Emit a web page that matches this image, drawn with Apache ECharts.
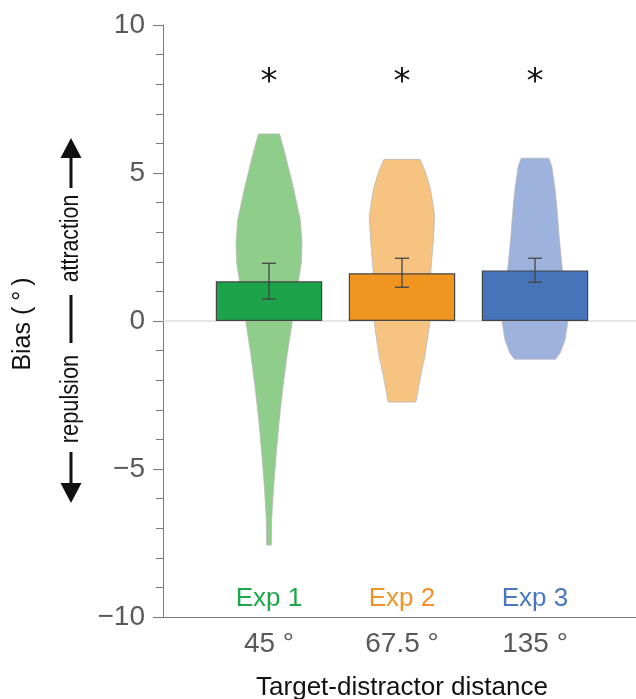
<!DOCTYPE html>
<html>
<head>
<meta charset="utf-8">
<script src="https://cdn.jsdelivr.net/npm/echarts@6/dist/echarts.min.js"></script>
<style>
html,body{margin:0;padding:0;background:#fff;}
#chart{width:636px;height:699px;}
</style>
</head>
<body>
<div id="chart"></div>
<script>
// ---- data ----
const categories = ['45 °', '67.5 °', '135 °'];
const expLabels = ['Exp 1', 'Exp 2', 'Exp 3'];
const meanBias = [1.34, 1.61, 1.71];
const errLow = [0.74, 1.14, 1.31];
const errHigh = [1.95, 2.12, 2.12];
const sigMarks = ['*', '*', '*'];
const sigLevel = 8.3;

// violin outlines: bias levels (deg) and relative density (1 = widest)
const violin1Levels = [6.32, 5.67, 4.54, 3.41, 2.64, 1.96, 1.40, 0.7, -0.05, -1.13, -2.25, -3.35, -4.47, -5.6, -6.7, -7.57];
const violin1Density = [0.32, 0.48, 0.73, 0.95, 1.0, 0.98, 0.9, 0.8, 0.7, 0.55, 0.42, 0.31, 0.22, 0.14, 0.08, 0.07];
const violin2Levels = [5.46, 5.0, 4.43, 3.86, 3.52, 2.74, 1.62, 0.0, -1.2, -1.77, -2.74];
const violin2Density = [0.55, 0.72, 0.87, 0.95, 0.99, 0.95, 0.87, 0.85, 0.69, 0.58, 0.42];
const violin3Levels = [5.5, 5.22, 4.43, 3.87, 2.74, 1.72, 0.8, 0.0, -0.64, -1.09, -1.29];
const violin3Density = [0.42, 0.51, 0.61, 0.66, 0.74, 0.83, 0.92, 1.0, 0.91, 0.76, 0.62];

// ---- styles ----
const barColors = ['#1da349', '#f0951f', '#4575b8'];
const lightColors = ['#8fcd8b', '#f7c381', '#9eb2de'];
const labelColors = ['#1fa64a', '#f0932a', '#4877bd'];
const FONT = '"Liberation Sans", Arial, Helvetica, sans-serif';
const VIOLIN_SCALE = 0.248;

const violinLevels = [violin1Levels, violin2Levels, violin3Levels];
const violinDensity = [violin1Density, violin2Density, violin3Density];

const chart = echarts.init(document.getElementById('chart'));

const option = {
  animation: false,
  grid: [
    {left: 163, right: 0, top: 25, bottom: 82, outerBoundsMode: 'none', containLabel: false},
    {left: 202.5, width: 399, top: 25, bottom: 82, outerBoundsMode: 'none', containLabel: false}
  ],
  xAxis: [
    {gridIndex: 0, type: 'value', min: 0, max: 1,
      axisLine: {show: true, onZero: false, lineStyle: {color: '#7a7a7a', width: 1}},
      axisTick: {show: false}, axisLabel: {show: false}, splitLine: {show: false}},
    {gridIndex: 1, type: 'category', data: categories,
      axisLine: {show: false},
      axisTick: {show: true, alignWithLabel: true, length: 10, lineStyle: {color: '#7a7a7a'}},
      axisLabel: {fontSize: 28, color: '#58595b', fontFamily: FONT, margin: 13},
      name: 'Target-distractor distance', nameLocation: 'middle', nameGap: 71,
      nameTextStyle: {fontSize: 26, color: '#111', fontFamily: FONT, verticalAlign: 'middle'},
      splitLine: {show: false}}
  ],
  yAxis: [
    {gridIndex: 0, type: 'value', min: -10, max: 10, interval: 5,
      axisLine: {show: true, lineStyle: {color: '#7a7a7a', width: 1}},
      axisTick: {show: true, length: 10, lineStyle: {color: '#7a7a7a'}},
      minorTick: {show: true, splitNumber: 5, length: 7, lineStyle: {color: '#7a7a7a'}},
      axisLabel: {fontSize: 28, color: '#58595b', fontFamily: FONT, margin: 18,
        formatter: v => v < 0 ? '\u2212' + Math.abs(v) : String(v)},
      splitLine: {show: false}},
    {gridIndex: 1, type: 'value', min: -10, max: 10, show: false}
  ],
  graphic: [
    {type: 'text', x: 23, y: 324, rotation: Math.PI / 2,
      style: {text: 'Bias ({d|°})', fontSize: 25, fontFamily: FONT, fill: '#111', align: 'center', verticalAlign: 'middle',
        rich: {d: {fontSize: 25, fontFamily: FONT, fill: '#111', padding: [0, 5, 0, 6]}}}},
    {type: 'polygon', shape: {points: [[71, 138], [60.5, 158], [81.5, 158]]}, style: {fill: '#111'}},
    {type: 'line', shape: {x1: 71, y1: 156, x2: 71, y2: 188}, style: {stroke: '#111', lineWidth: 3}},
    {type: 'text', x: 71, y: 238.5, rotation: Math.PI / 2, scaleX: 0.85,
      style: {text: 'attraction', fontSize: 25, fontFamily: FONT, fill: '#111', align: 'center', verticalAlign: 'middle'}},
    {type: 'line', shape: {x1: 71, y1: 295, x2: 71, y2: 343}, style: {stroke: '#111', lineWidth: 3}},
    {type: 'text', x: 71, y: 399, rotation: Math.PI / 2, scaleX: 0.87,
      style: {text: 'repulsion', fontSize: 25, fontFamily: FONT, fill: '#111', align: 'center', verticalAlign: 'middle'}},
    {type: 'line', shape: {x1: 71, y1: 452, x2: 71, y2: 485}, style: {stroke: '#111', lineWidth: 3}},
    {type: 'polygon', shape: {points: [[71, 503], [60.5, 483], [81.5, 483]]}, style: {fill: '#111'}}
  ],
  series: [
    {type: 'line', xAxisIndex: 0, yAxisIndex: 0, data: [[0, 0], [1, 0]], symbol: 'none',
      lineStyle: {color: '#cccccc', width: 1}, z: 1, silent: true},
    {type: 'custom', xAxisIndex: 1, yAxisIndex: 1, z: 2,
      data: categories.map((c, i) => [i]),
      renderItem: function (params, api) {
        const idx = api.value(0);
        const center = api.coord([idx, 0])[0];
        const band = api.size([1, 0])[0];
        const half = band * VIOLIN_SCALE;
        const lv = violinLevels[idx], dv = violinDensity[idx];
        const left = lv.map((y, i) => [center - dv[i] * half, api.coord([idx, y])[1]]);
        const right = lv.map((y, i) => [center + dv[i] * half, api.coord([idx, y])[1]]).reverse();
        return {type: 'polygon', shape: {points: left.concat(right)},
          style: {fill: lightColors[idx], stroke: '#b8b8b8', lineWidth: 0.8}};
      }},
    {type: 'bar', xAxisIndex: 1, yAxisIndex: 1, z: 3, barWidth: '80%',
      data: meanBias.map((v, i) => ({value: v, itemStyle: {color: barColors[i]}})),
      itemStyle: {borderColor: '#444', borderWidth: 1.2}},
    {type: 'custom', xAxisIndex: 1, yAxisIndex: 1, z: 4,
      data: meanBias.map((v, i) => [i, errLow[i], errHigh[i]]),
      renderItem: function (params, api) {
        const idx = api.value(0);
        const top = api.coord([idx, api.value(2)]);
        const bot = api.coord([idx, api.value(1)]);
        const cw = 7;
        const st = {stroke: '#444', lineWidth: 1.3};
        return {type: 'group', children: [
          {type: 'line', shape: {x1: top[0], y1: top[1], x2: bot[0], y2: bot[1]}, style: st},
          {type: 'line', shape: {x1: top[0] - cw, y1: top[1], x2: top[0] + cw, y2: top[1]}, style: st},
          {type: 'line', shape: {x1: bot[0] - cw, y1: bot[1], x2: bot[0] + cw, y2: bot[1]}, style: st}
        ]};
      }},
    {type: 'scatter', xAxisIndex: 1, yAxisIndex: 1, z: 5, symbolSize: 0, silent: true,
      itemStyle: {opacity: 1},
      data: sigMarks.map((s, i) => ({value: [i, sigLevel], name: s})),
      label: {show: true, position: 'inside', formatter: p => p.name, fontSize: 34,
        fontFamily: '"DejaVu Sans", sans-serif', color: '#111', offset: [0, 8]}},
    {type: 'scatter', xAxisIndex: 1, yAxisIndex: 1, z: 5, symbolSize: 0, silent: true,
      itemStyle: {opacity: 1},
      data: expLabels.map((s, i) => ({value: [i, -9.4], name: s,
        label: {color: labelColors[i]}})),
      label: {show: true, position: 'inside', formatter: p => p.name, fontSize: 26, fontFamily: FONT}}
  ]
};
chart.setOption(option);
</script>
</body>
</html>
